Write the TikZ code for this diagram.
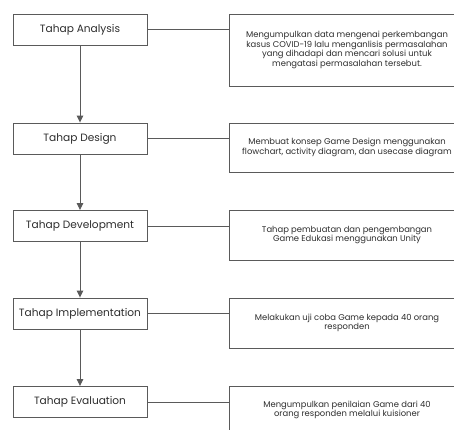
\documentclass[tikz,border=0pt]{standalone}
\usepackage{fontspec}
\setmainfont{Poppins}
\usetikzlibrary{arrows.meta}
\definecolor{linec}{HTML}{5A5A5A}
\definecolor{txtc}{HTML}{2E2E2E}
\begin{document}
\begin{tikzpicture}[x=1pt,y=-1pt,
  stagebox/.style={draw=linec,line width=0.9pt,rectangle,minimum width=134pt,minimum height=31pt,inner sep=0pt,text=txtc,font=\fontsize{10.6}{12}\selectfont},
  descbox/.style={draw=linec,line width=0.9pt,rectangle,minimum width=236pt,inner sep=0pt,text=txtc,align=center,font=\fontsize{8.4}{9.4}\selectfont},
  conn/.style={draw=linec,line width=0.9pt},
  flow/.style={draw=linec,line width=0.9pt,-{Triangle[length=7pt,width=6.5pt]}}]
\useasboundingbox (0,0) rectangle (454,429);
\clip (0,0) rectangle (454,429);
\fill[white] (0,0) rectangle (454,429);
\node[stagebox] (s1) at (80,29.5) {Tahap Analysis};
\node[stagebox] (s2) at (80,138.5) {Tahap Design};
\node[stagebox] (s3) at (80,226) {Tahap Development};
\node[stagebox] (s4) at (80,313.5) {Tahap Implementation};
\node[stagebox] (s5) at (80,402) {Tahap Evaluation};
\node[descbox,minimum height=72pt] (d1) at (347,50) {Mengumpulkan data mengenai perkembangan\\kasus COVID-19 lalu menganlisis permasalahan\\yang dihadapi dan mencari solusi untuk\\mengatasi permasalahan tersebut.};
\node[descbox,minimum height=49pt] (d2) at (347,147.5) {Membuat konsep Game Design menggunakan\\flowchart, activity diagram, dan usecase diagram};
\node[descbox,minimum height=50pt] (d3) at (347,235) {Tahap pembuatan dan pengembangan\\Game Edukasi menggunakan Unity};
\node[descbox,minimum height=50pt] (d4) at (347,323) {Melakukan uji coba Game kepada 40 orang\\responden};
\node[descbox,minimum height=48pt] (d5) at (347,410) {Mengumpulkan penilaian Game dari 40\\orang responden melalui kuisioner};
\foreach \i in {1,...,5}{\draw[conn] (s\i.east) -- (s\i.east -| d\i.west);}
\draw[flow] (s1) -- (s2);
\draw[flow] (s2) -- (s3);
\draw[flow] (s3) -- (s4);
\draw[flow] (s4) -- (s5);
\end{tikzpicture}
\end{document}
